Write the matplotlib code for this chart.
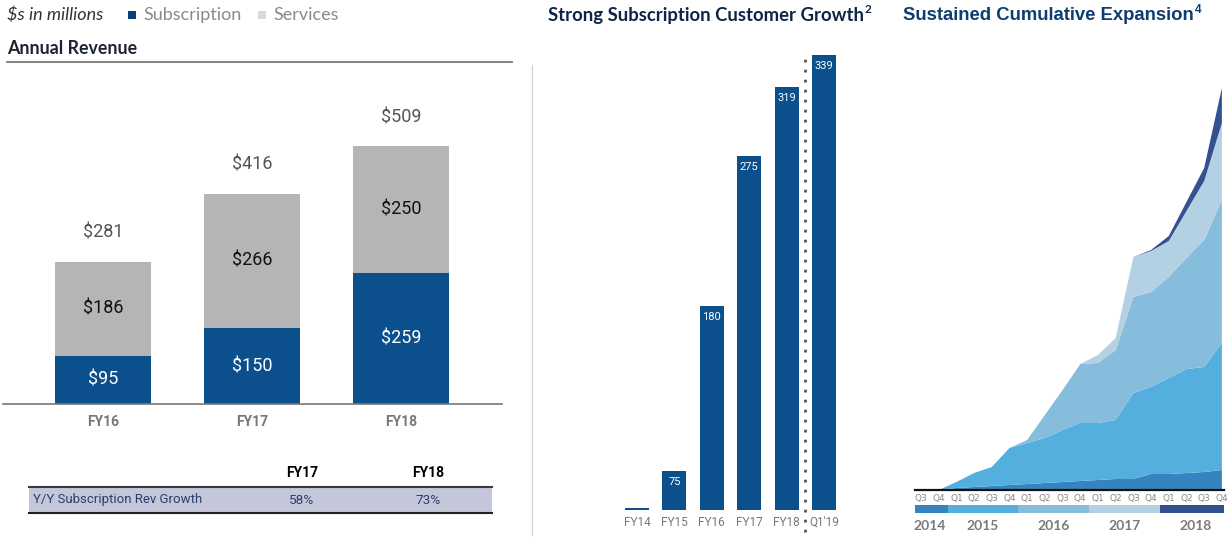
import numpy as np
import matplotlib
matplotlib.use("Agg")
import matplotlib.pyplot as plt
from matplotlib.patches import Rectangle
from matplotlib.lines import Line2D
import matplotlib.transforms as mtransforms

# ---------------- data ----------------
rev_years = ["FY16", "FY17", "FY18"]
rev_subscription = [95, 150, 259]
rev_services = [186, 266, 250]

cust_labels = ["FY14", "FY15", "FY16", "FY17", "FY18", "Q1'19"]
cust_values = [51.3, 75, 180, 275, 319, 339]
cust_value_text = ["", "75", "180", "275", "319", "339"]

quarter_labels = ["Q3", "Q4", "Q1", "Q2", "Q3", "Q4", "Q1", "Q2", "Q3", "Q4",
                  "Q1", "Q2", "Q3", "Q4", "Q1", "Q2", "Q3", "Q4"]
quarter_years = ["2014", "2014", "2015", "2015", "2015", "2015", "2016", "2016", "2016", "2016",
                 "2017", "2017", "2017", "2017", "2018", "2018", "2018", "2018"]
cohort_names = ["2014", "2015", "2016", "2017", "2018"]
cohort_2014 = [0, 0, 2, 3, 4, 5, 6, 7, 8, 9, 10, 11, 11, 16, 16, 17, 18, 20]
cohort_2015 = [0, 0, 6, 14, 19, 37, 41, 45, 52, 58, 57, 59, 86, 87, 96, 104, 105, 127]
cohort_2016 = [0, 0, 0, 0, 0, 0, 3, 23, 40, 59, 60, 70, 96, 95, 101, 111, 127, 143]
cohort_2017 = [0, 0, 0, 0, 0, 0, 0, 0, 0, 0, 8, 12, 40, 41, 36, 47, 59, 77]
cohort_2018 = [0, 0, 0, 0, 0, 0, 0, 0, 0, 0, 0, 0, 0, 1, 5, 9, 13, 35]

# ---------------- style ----------------
BLUE = "#0b4f8c"
GRAY = "#b5b5b5"
COHORT_COLORS = ["#3584bf", "#54aede", "#86bddd", "#b3d1e3", "#33508f"]
W, H = 1230, 538
SANS = ["Lato", "DejaVu Sans"]
NUM = ["Roboto", "DejaVu Sans"]
ARIAL = ["Liberation Sans", "DejaVu Sans"]


def box(x0, y0, x1, y1):
    return [x0 / W, 1 - y1 / H, (x1 - x0) / W, (y1 - y0) / H]


def fx(x):
    return x / W


def fy(y):
    return 1 - y / H


fig = plt.figure(figsize=(W / 100, H / 100), dpi=100)
fig.patch.set_facecolor("white")

# ---------------- header (panel 1) ----------------
fig.text(fx(7), fy(15), "$s in millions", style="italic", fontsize=13, color="#333333",
         va="center", ha="left", family=SANS)
fig.add_artist(Rectangle((fx(128), fy(19)), 8 / W, 8 / H, transform=fig.transFigure,
                         color="#0c3f7e", lw=0))
fig.text(fx(143), fy(15), "Subscription", fontsize=13, color="#8a8a8a", va="center",
         ha="left", family=SANS)
fig.add_artist(Rectangle((fx(258), fy(19)), 8 / W, 8 / H, transform=fig.transFigure,
                         color="#d9d9d9", lw=0))
fig.text(fx(273), fy(15), "Services", fontsize=13, color="#8a8a8a", va="center",
         ha="left", family=SANS)
fig.text(fx(7), fy(48), "Annual Revenue", fontsize=12.8, weight="bold", color="#1c2333",
         va="center", ha="left", family=SANS)
fig.add_artist(Line2D([fx(7), fx(512)], [fy(62), fy(62)], transform=fig.transFigure,
                      color="#7a7a7a", lw=1.3))

# ---------------- panel 1: stacked revenue ----------------
ax1 = fig.add_axes(box(3, 70, 502, 404))
x1 = np.arange(len(rev_years))
bw = 0.644
ax1.bar(x1, rev_subscription, bw, color=BLUE, lw=0)
ax1.bar(x1, rev_services, bw, bottom=rev_subscription, color=GRAY, lw=0)
ax1.set_xlim(-0.671, 2.678)
ax1.set_ylim(0, 334 / 0.506)
for i, (s, v) in enumerate(zip(rev_subscription, rev_services)):
    ax1.text(i, s / 2, f"${s}", ha="center", va="center", color="white", fontsize=13, family=NUM)
    ax1.text(i, s + v / 2, f"${v}", ha="center", va="center", color="#111111", fontsize=13,
             family=NUM)
    ax1.annotate(f"${s + v}", (i, s + v), xytext=(0, 21), textcoords="offset points",
                 ha="center", va="center", color="#555555", fontsize=13, family=NUM)
for sp in ["top", "left", "right"]:
    ax1.spines[sp].set_visible(False)
ax1.spines["bottom"].set_color("#777777")
ax1.spines["bottom"].set_linewidth(1.2)
ax1.set_yticks([])
ax1.set_xticks(x1, rev_years)
ax1.tick_params(axis="x", length=0, pad=8, labelsize=10, labelcolor="#777777")
for t in ax1.get_xticklabels():
    t.set_fontweight("bold")
    t.set_family(NUM)

# ---------------- table ----------------
fig.add_artist(Rectangle((fx(29), fy(513)), (492 - 29) / W, (513 - 487) / H,
                         transform=fig.transFigure, color="#c4c6da", lw=0))
fig.add_artist(Line2D([fx(29), fx(492)], [fy(487), fy(487)], transform=fig.transFigure,
                      color="#3a3a3a", lw=1.5))
fig.add_artist(Line2D([fx(29), fx(492)], [fy(513), fy(513)], transform=fig.transFigure,
                      color="#222222", lw=1.5))
growth = [round((rev_subscription[k] / rev_subscription[k - 1] - 1) * 100)
          for k in range(1, len(rev_subscription))]
col_x = [302, 428]
for cx, yr, g in zip(col_x, rev_years[1:], growth):
    fig.text(fx(cx), fy(473), yr, fontsize=10, weight="bold", color="black", ha="center",
             va="center", family=NUM)
    fig.text(fx(cx), fy(500), f"{g}%", fontsize=9.7, color="#2c3f6b", ha="center",
             va="center", family=NUM)
fig.text(fx(33), fy(500), "Y/Y Subscription Rev Growth", fontsize=9.5, color="#2c3f6b",
         ha="left", va="center", family=NUM)

# separator
fig.add_artist(Line2D([fx(532), fx(532)], [fy(65), fy(535)], transform=fig.transFigure,
                      color="#d5d5d5", lw=1))

# ---------------- titles ----------------
t2 = fig.text(fx(548), fy(15), "Strong Subscription Customer Growth", fontsize=13.3,
              weight="bold", color="#0d2545", va="center", ha="left", family=SANS)
t3 = fig.text(fx(903), fy(15), "Sustained Cumulative Expansion", fontsize=13.3,
              weight="bold", color="#0e3d72", va="center", ha="left", family=ARIAL)
for t, sup, fam in [(t2, "2", SANS), (t3, "4", ARIAL)]:
    fig.add_artist(plt.Annotation(sup, xy=(1, 1), xycoords=t, xytext=(0.5, 2),
                                  textcoords="offset points", ha="left", va="top",
                                  fontsize=8.5, weight="bold", color=t.get_color(),
                                  family=fam))

# ---------------- panel 2: customers ----------------
ax2 = fig.add_axes(box(615, 50, 845, 510))
x2 = np.arange(len(cust_labels))
ax2.bar(x2, np.array(cust_values) - 50.3, 0.64, bottom=50.3, color=BLUE, lw=0)
ax2.set_xlim(-0.588, 5.56)
ax2.set_ylim(50.3, 50.3 + 460 / 1.576)
for i, (v, lab) in enumerate(zip(cust_values, cust_value_text)):
    if lab:
        ax2.annotate(lab, (i, v), xytext=(0, -8), textcoords="offset points", ha="center",
                     va="center", color="white", fontsize=8, family=NUM)
for sp in ax2.spines.values():
    sp.set_visible(False)
ax2.set_yticks([])
ax2.set_xticks(x2, cust_labels)
ax2.tick_params(axis="x", length=0, pad=4, labelsize=8.5, labelcolor="#777777")
for t in ax2.get_xticklabels():
    t.set_family(NUM)
trans2 = mtransforms.blended_transform_factory(ax2.transData, ax2.transAxes)
ax2.plot([len(cust_labels) - 1.5] * 2, [-0.048, 0.983], transform=trans2, color="#555555",
         lw=2, ls=(0, (1, 2.6)), clip_on=False)

# ---------------- panel 3: cohorts ----------------
ax3 = fig.add_axes(box(915, 80, 1224, 490))
xq = np.arange(len(quarter_labels))
ax3.stackplot(xq, cohort_2014, cohort_2015, cohort_2016, cohort_2017, cohort_2018,
              colors=COHORT_COLORS, lw=0)
ax3.set_xlim(-0.34, 17.12)
ax3.set_ylim(0, 410)
for sp in ["top", "left", "right"]:
    ax3.spines[sp].set_visible(False)
ax3.spines["bottom"].set_color("#111111")
ax3.spines["bottom"].set_linewidth(1.6)
ax3.set_yticks([])
ax3.set_xticks(xq, quarter_labels)
ax3.tick_params(axis="x", length=0, pad=3, labelsize=6.5, labelcolor="#888888")

axb = fig.add_axes(box(915, 505, 1224, 513))
axb.set_xlim(ax3.get_xlim())
axb.set_ylim(0, 1)
centers = []
for name, col in zip(cohort_names, COHORT_COLORS):
    idx = [k for k, y in enumerate(quarter_years) if y == name]
    axb.axvspan(idx[0] - 0.5, idx[-1] + 0.5, color=col, lw=0)
    centers.append((idx[0] + idx[-1]) / 2)
for sp in axb.spines.values():
    sp.set_visible(False)
axb.set_yticks([])
axb.set_xticks(centers, cohort_names)
axb.tick_params(axis="x", length=0, pad=5, labelsize=10, labelcolor="#7a7a7a")
for t in axb.get_xticklabels():
    t.set_fontweight("bold")
    t.set_family(SANS)

fig.savefig("out.png", dpi=100, facecolor="white")
